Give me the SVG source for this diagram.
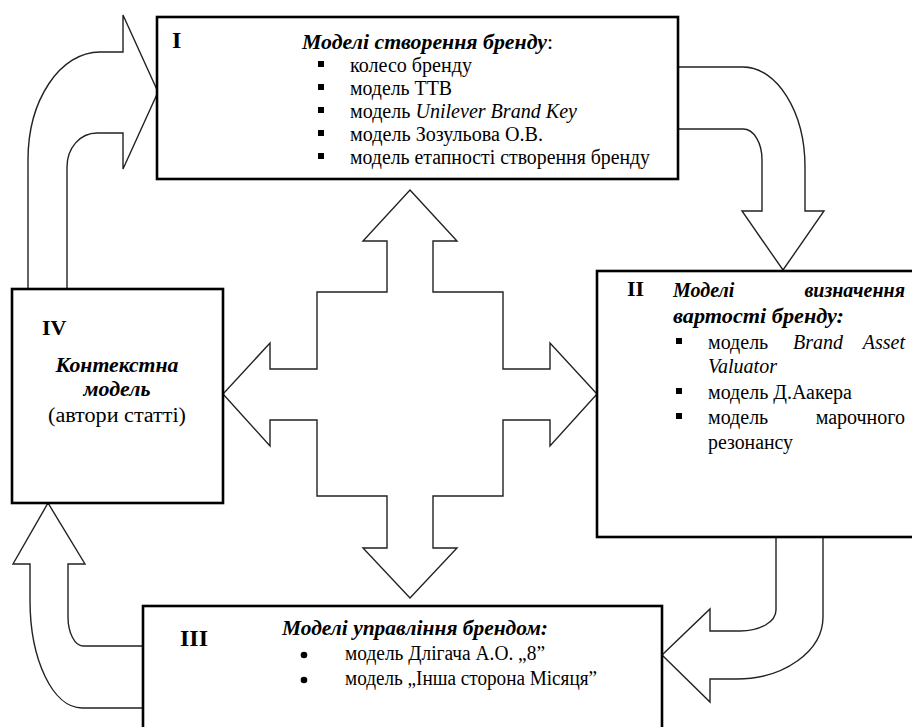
<svg xmlns="http://www.w3.org/2000/svg" width="912" height="727" viewBox="0 0 912 727">
<style>
.box{fill:#fff;stroke:#000;stroke-width:2.6}
.arr{fill:#fff;stroke:#222;stroke-width:1.4;stroke-linejoin:miter}
.b{fill:#000}
</style>
<rect width="912" height="727" fill="#fff"/>
<g id="connectors">
<path class="arr" d="M28,289 L28,160 C28,100 60,52 100,52 L123,52 L123,15 L158,92 L123,169 L123,133 L97,133 C80,133 67,148 67,167 L67,289"/>
<path class="arr" d="M678,67 L743,67 C777,67 805,112 805,167 L805,211 L824,211 L783,270 L742,211 L762,211 L762,160 C762,143 754,129 743,129 L678,129"/>
<path class="arr" d="M776,537 L776,610 C776,622 760,631 740,631 L710,631 L710,609 L662,655 L710,702 L710,679 L737,679 C784,679 823,651 823,617 L823,537"/>
<path class="arr" d="M143,646 L83,646 C75,646 68,633 68,617 L68,564 L85,564 L48,503 L13,564 L30,564 L30,600 C30,660 53,708 82,708 L143,708"/>
<polygon class="arr" points="410,190 457,241 433,241 433,292 503,292 503,369 550,369 550,343 597,394 550,446 550,420 503,420 503,496 433,496 433,548 457,548 410,598 363,548 387,548 387,496 317,496 317,420 270,420 270,446 223,394 270,343 270,369 317,369 317,292 387,292 387,241 363,241"/>
</g>
<g id="node-I">
<rect class="box" x="157" y="17" width="521" height="162"/>
<text x="172" y="48" font-family="Liberation Serif" font-size="24" font-weight="bold">I</text>
<text x="302" y="49" font-family="Liberation Serif" font-size="20" textLength="251" lengthAdjust="spacingAndGlyphs"><tspan font-weight="bold" font-style="italic">Моделі створення бренду</tspan>:</text>
<rect class="b" x="318" y="61" width="6" height="6"/>
<text x="350" y="72" font-family="Liberation Serif" font-size="20" textLength="122" lengthAdjust="spacingAndGlyphs">колесо бренду</text>
<rect class="b" x="318" y="84" width="6" height="6"/>
<text x="350" y="95" font-family="Liberation Serif" font-size="20" textLength="102" lengthAdjust="spacingAndGlyphs">модель ТТВ</text>
<rect class="b" x="318" y="107" width="6" height="6"/>
<text x="350" y="118" font-family="Liberation Serif" font-size="20" textLength="227" lengthAdjust="spacingAndGlyphs">модель <tspan font-style="italic">Unilever Brand Key</tspan></text>
<rect class="b" x="318" y="130" width="6" height="6"/>
<text x="350" y="141" font-family="Liberation Serif" font-size="20" textLength="193" lengthAdjust="spacingAndGlyphs">модель Зозульова О.В.</text>
<rect class="b" x="318" y="153" width="6" height="6"/>
<text x="350" y="164" font-family="Liberation Serif" font-size="20" textLength="300" lengthAdjust="spacingAndGlyphs">модель етапності створення бренду</text>
</g>
<g id="node-II">
<rect class="box" x="597" y="271" width="340" height="266"/>
<text x="627" y="296" font-family="Liberation Serif" font-size="22" font-weight="bold">II</text>
<text x="673" y="297" font-family="Liberation Serif" font-size="20" font-weight="bold" font-style="italic">Моделі</text>
<text x="905" y="297" font-family="Liberation Serif" font-size="20" font-weight="bold" font-style="italic" text-anchor="end">визначення</text>
<text x="673" y="323" font-family="Liberation Serif" font-size="20" font-weight="bold" font-style="italic" textLength="171" lengthAdjust="spacingAndGlyphs">вартості бренду:</text>
<rect class="b" x="676" y="338" width="6" height="6"/>
<text x="708" y="349" font-family="Liberation Serif" font-size="20">модель</text>
<text x="793" y="349" font-family="Liberation Serif" font-size="20" font-style="italic">Brand</text>
<text x="905" y="349" font-family="Liberation Serif" font-size="20" font-style="italic" text-anchor="end">Asset</text>
<text x="708" y="373" font-family="Liberation Serif" font-size="20" font-style="italic" textLength="69" lengthAdjust="spacingAndGlyphs">Valuator</text>
<rect class="b" x="676" y="388" width="6" height="6"/>
<text x="708" y="399" font-family="Liberation Serif" font-size="20" textLength="144" lengthAdjust="spacingAndGlyphs">модель Д.Аакера</text>
<rect class="b" x="676" y="413" width="6" height="6"/>
<text x="708" y="424" font-family="Liberation Serif" font-size="20">модель</text>
<text x="905" y="424" font-family="Liberation Serif" font-size="20" text-anchor="end">марочного</text>
<text x="708" y="449" font-family="Liberation Serif" font-size="20" textLength="85" lengthAdjust="spacingAndGlyphs">резонансу</text>
</g>
<g id="node-III">
<rect class="box" x="143" y="606" width="519" height="140"/>
<text x="180" y="646" font-family="Liberation Serif" font-size="24" font-weight="bold" textLength="28" lengthAdjust="spacingAndGlyphs">III</text>
<text x="282" y="635" font-family="Liberation Serif" font-size="20" font-weight="bold" font-style="italic" textLength="266" lengthAdjust="spacingAndGlyphs">Моделі управління брендом:</text>
<circle class="b" cx="304" cy="655" r="3.3"/>
<text x="345" y="660" font-family="Liberation Serif" font-size="20" textLength="200" lengthAdjust="spacingAndGlyphs">модель Длігача А.О. „8”</text>
<circle class="b" cx="304" cy="680" r="3.3"/>
<text x="345" y="685" font-family="Liberation Serif" font-size="20" textLength="252" lengthAdjust="spacingAndGlyphs">модель „Інша сторона Місяця”</text>
</g>
<g id="node-IV">
<rect class="box" x="12" y="289" width="211" height="214"/>
<text x="42" y="335" font-family="Liberation Serif" font-size="22" font-weight="bold">IV</text>
<text x="117" y="372" font-family="Liberation Serif" font-size="20" font-weight="bold" font-style="italic" text-anchor="middle" textLength="123" lengthAdjust="spacingAndGlyphs">Контекстна</text>
<text x="117" y="396" font-family="Liberation Serif" font-size="20" font-weight="bold" font-style="italic" text-anchor="middle" textLength="67" lengthAdjust="spacingAndGlyphs">модель</text>
<text x="117" y="422" font-family="Liberation Serif" font-size="20" text-anchor="middle" textLength="138" lengthAdjust="spacingAndGlyphs">(автори статті)</text>
</g>
</svg>
